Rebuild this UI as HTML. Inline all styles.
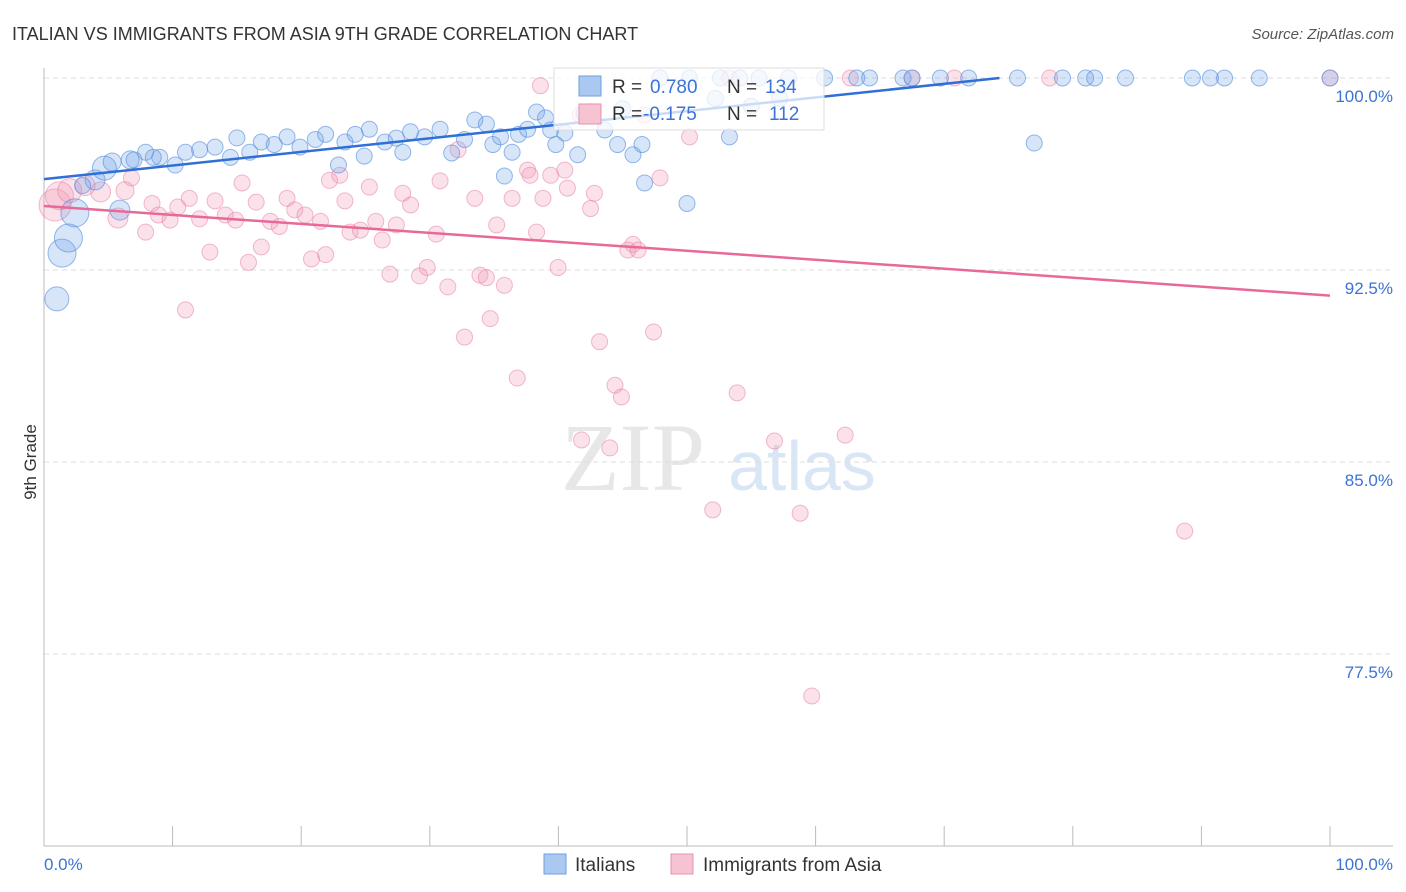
<!DOCTYPE html>
<html><head><meta charset="utf-8">
<style>
body{margin:0;background:#fff;font-family:"Liberation Sans",sans-serif;}
svg{display:block}
</style></head>
<body>
<svg id="chart" width="1406" height="892">
<text x="12" y="40" font-size="18" fill="#333">ITALIAN VS IMMIGRANTS FROM ASIA 9TH GRADE CORRELATION CHART</text>
<text x="1394" y="39" font-size="15" fill="#555" font-style="italic" text-anchor="end">Source: ZipAtlas.com</text>
<text x="36" y="462" font-size="17" fill="#333" text-anchor="middle" transform="rotate(-90 36 462)">9th Grade</text>
<g id="watermark">
<text x="633" y="490" font-size="96" fill="#ddd" font-family="Liberation Serif,serif" text-anchor="middle" opacity="0.7">ZIP</text>
<text x="802" y="490" font-size="70" fill="#c9dcf2" text-anchor="middle" opacity="0.7">atlas</text>
</g>
<g id="grid"></g><g id="axes"></g><g id="pts"></g><g id="lines"></g>
<g>
<rect x="554" y="68" width="270" height="62" fill="#fff" fill-opacity="0.75" stroke="#ddd"/>
<rect x="579" y="76" width="22" height="20" fill="#aac8f0" stroke="#6f9fdc"/>
<text x="612" y="93" font-size="19" fill="#333">R = </text><text x="650" y="93" font-size="19" fill="#3b73d6">0.780</text>
<text x="727" y="93" font-size="19" fill="#333">N = </text><text x="765" y="93" font-size="19" fill="#3b73d6">134</text>
<rect x="579" y="104" width="22" height="20" fill="#f6c3d2" stroke="#e791ad"/>
<text x="612" y="120" font-size="19" fill="#333">R = </text><text x="643" y="120" font-size="19" fill="#3b73d6">-0.175</text>
<text x="727" y="120" font-size="19" fill="#333">N = </text><text x="769" y="120" font-size="19" fill="#3b73d6">112</text>
</g>
<g>
<rect x="544" y="854" width="22" height="20" fill="#aac8f0" stroke="#6f9fdc"/>
<text x="575" y="871" font-size="19" fill="#333">Italians</text>
<rect x="671" y="854" width="22" height="20" fill="#f6c3d2" stroke="#e791ad"/>
<text x="703" y="871" font-size="19" fill="#333">Immigrants from Asia</text>
</g>
</svg>
<script>
const yTicks=[100,92.5,85,77.5];
const yTickLabels=["100.0%","92.5%","85.0%","77.5%"];
const xTicks=[0,10,20,30,40,50,60,70,80,90,100];
const blueX=[1.0,1.4,1.9,2.4,3.97,4.7,5.9,5.3,6.7,7.9,9.0,10.2,11.0,12.1,13.3,14.5,15.0,16.0,16.9,17.9,18.9,19.9,21.1,21.9,22.9,23.4,24.2,24.9,25.3,26.5,27.4,27.9,28.5,29.6,30.8,31.7,32.7,33.5,34.4,34.9,35.5,35.8,36.4,36.9,37.6,38.3,39.0,39.4,39.8,40.5,41.5,43.6,44.6,45.8,46.7,46.5,50.0,53.3,77.0,
47.9,50.2,52.6,54.1,55.6,57.9,60.7,63.2,64.2,66.8,67.5,69.7,71.9,75.7,79.2,81.0,81.7,84.1,89.3,90.7,91.8,94.5,100,52.2,55.0,57.2,45.0,42.0,3.0,7.0,8.5];
const blueY=[91.37,93.16,93.75,94.73,96.02,96.48,94.84,96.72,96.8,97.1,96.9,96.6,97.1,97.2,97.3,96.9,97.66,97.1,97.5,97.4,97.7,97.3,97.6,97.8,96.6,97.5,97.8,96.95,98.0,97.5,97.65,97.1,97.9,97.7,98.0,97.07,97.6,98.36,98.2,97.4,97.7,96.17,97.1,97.8,98.0,98.67,98.44,97.97,97.4,97.85,97.0,97.97,97.4,97.0,95.9,97.4,95.1,97.7,97.46,
100,100,100,100,100,100,100,100,100,100,100,100,100,100,100,100,100,100,100,100,100,100,100,99.2,98.9,99.2,98.8,98.6,95.8,96.8,96.9];
const blueR=[12,14,14,14,10,12,10,9,9,8];
const pinkX=[0.86,1.2,2.0,3.2,4.4,5.75,6.3,6.8,7.9,8.4,8.9,9.8,10.4,11.0,11.3,12.1,12.9,13.3,14.1,14.9,15.4,15.9,16.5,16.9,17.6,18.3,18.9,19.5,20.3,20.8,21.5,21.9,22.2,23.0,23.4,23.8,24.6,25.3,25.8,26.3,26.9,27.4,27.9,28.5,29.2,29.8,30.5,30.8,31.4,32.2,32.7,33.5,33.9,34.4,34.7,35.2,35.8,36.4,36.8,37.6,37.8,38.3,38.8,39.4,39.97,40.5,40.7,41.7,41.8,42.5,42.8,43.2,44.0,44.4,44.9,45.4,45.8,46.2,46.7,47.4,47.9,50.2,52.0,53.9,56.8,58.8,59.7,62.3,88.7,53.3,62.7,67.5,70.8,78.2,100,38.6,42.5];
const pinkY=[95.04,95.4,95.6,95.8,95.55,94.53,95.6,96.1,93.98,95.1,94.65,94.45,94.96,90.94,95.3,94.5,93.2,95.2,94.65,94.45,95.9,92.8,95.15,93.4,94.4,94.2,95.3,94.85,94.65,92.93,94.4,93.1,96.0,96.2,95.2,93.98,94.06,95.74,94.4,93.67,92.34,94.26,95.5,95.04,92.27,92.6,93.9,95.98,91.84,97.2,89.88,95.3,92.3,92.2,90.6,94.26,91.9,95.3,88.28,96.4,96.2,93.98,95.3,96.2,92.6,96.4,95.7,98.55,85.86,94.9,95.5,89.7,85.55,88.0,87.54,93.28,93.5,93.28,98.55,90.08,96.1,97.7,83.13,87.7,85.82,83.0,75.86,86.05,82.3,100,100,100,100,100,100,99.7,98.7];
const pinkR=[16,14,12,10,10,10,9];
const blueTrend=[[0,96.05],[74.3,100]];
const pinkTrend=[[0,95.0],[100,91.5]];
const X0=44,X1=1330,YTOP=78,PPU=25.6;
const sx=v=>X0+(X1-X0)*v/100;
const sy=v=>YTOP+(100-v)*PPU;
const NS="http://www.w3.org/2000/svg";
function mk(tag,attrs,parent){const e=document.createElementNS(NS,tag);for(const k in attrs)e.setAttribute(k,attrs[k]);parent.appendChild(e);return e;}
const grid=document.getElementById('grid'),axes=document.getElementById('axes'),pts=document.getElementById('pts'),lines=document.getElementById('lines');
yTicks.forEach((t,i)=>{
 const l=mk('line',{x1:44,x2:1393,y1:sy(t),y2:sy(t),stroke:'#ddd','stroke-dasharray':'5,4'},grid);
 
 
 const tx=mk('text',{x:1393,y:sy(t)+24,'font-size':17,fill:'#3b73d6','text-anchor':'end'},axes);
 tx.textContent=yTickLabels[i];
 
 
});
const ax=mk('line',{x1:44,x2:1393,y1:846,y2:846,stroke:'#bbb'},axes);


const ay=mk('line',{x1:44,x2:44,y1:68,y2:846,stroke:'#bbb'},axes);


xTicks.forEach(t=>{
 const l=mk('line',{x1:sx(t),x2:sx(t),y1:826,y2:846,stroke:'#bbb'},axes);
 
 
});
const xl0=mk('text',{x:44,y:870,'font-size':17,fill:'#3b73d6'},axes);xl0.textContent='0.0%';


const xl1=mk('text',{x:1393,y:870,'font-size':17,fill:'#3b73d6','text-anchor':'end'},axes);xl1.textContent='100.0%';


function drawPts(xs,ys,rs,fill,stroke,name){
 xs.forEach((x,i)=>{
  const c=mk('circle',{cx:sx(x),cy:sy(ys[i]),r:rs[i]||8,fill:fill,stroke:stroke,'stroke-width':1},pts);
  
  
 });
}
drawPts(pinkX,pinkY,pinkR,'rgba(242,150,180,0.28)','rgba(232,130,165,0.55)','asia-point');
drawPts(blueX,blueY,blueR,'rgba(110,160,230,0.28)','rgba(80,140,220,0.6)','italians-point');
const bl=mk('line',{x1:sx(blueTrend[0][0]),y1:sy(blueTrend[0][1]),x2:sx(blueTrend[1][0]),y2:sy(blueTrend[1][1]),stroke:'#2f6fd6','stroke-width':2.5},lines);


const pl=mk('line',{x1:sx(pinkTrend[0][0]),y1:sy(pinkTrend[0][1]),x2:sx(pinkTrend[1][0]),y2:sy(pinkTrend[1][1]),stroke:'#e8689a','stroke-width':2.5},lines);


</script>
</body></html>
